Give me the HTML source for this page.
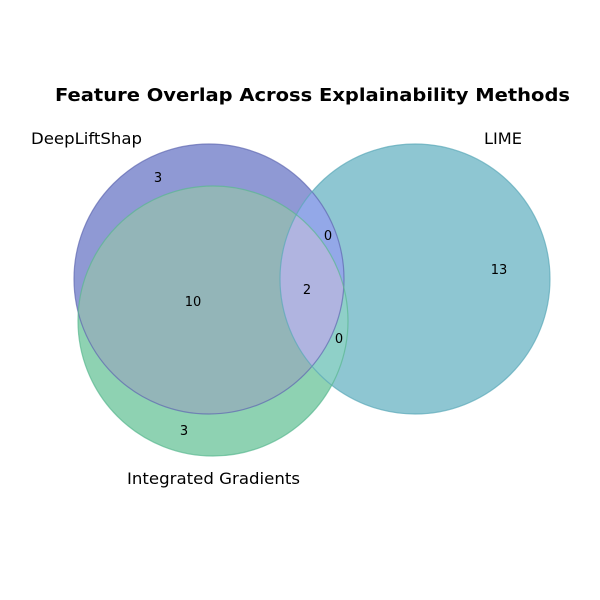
<!DOCTYPE html>
<html><head><style>body{margin:0;background:#fff}svg{display:block}</style></head><body>
<svg width="600" height="600" viewBox="0 0 600 600" xmlns="http://www.w3.org/2000/svg" font-family="'DejaVu Sans', 'Liberation Sans', sans-serif">
<defs>
<clipPath id="cA"><circle cx="209" cy="279" r="135"/></clipPath>
<clipPath id="cB"><circle cx="415" cy="279" r="135"/></clipPath>
<clipPath id="cC"><circle cx="213" cy="321" r="135"/></clipPath>
</defs>
<rect width="600" height="600" fill="#fff"/>
<circle cx="213" cy="321" r="135" fill="#8ed2b2"/>
<circle cx="415" cy="279" r="135" fill="#8ec6d2"/>
<circle cx="209" cy="279" r="135" fill="#8f99d4"/>
<g clip-path="url(#cA)">
  <circle cx="213" cy="321" r="135" fill="#93b5b8"/>
  <circle cx="415" cy="279" r="135" fill="#93a8e8"/>
  <g clip-path="url(#cC)"><circle cx="415" cy="279" r="135" fill="#b0b4e0"/></g>
</g>
<g clip-path="url(#cC)">
  <g clip-path="url(#cB)"><rect x="0" y="0" width="600" height="600" fill="#8fd0c8"/>
  <g clip-path="url(#cA)"><rect x="0" y="0" width="600" height="600" fill="#b0b4e0"/></g></g>
</g>
<circle cx="209" cy="279" r="135" fill="none" stroke="#5f68b0" stroke-opacity="0.7" stroke-width="1.2"/>
<circle cx="415" cy="279" r="135" fill="none" stroke="#5aa8b8" stroke-opacity="0.7" stroke-width="1.2"/>
<circle cx="213" cy="321" r="135" fill="none" stroke="#5ab890" stroke-opacity="0.7" stroke-width="1.2"/>
<text x="55" y="101" font-size="18" font-weight="bold" textLength="515" lengthAdjust="spacingAndGlyphs">Feature Overlap Across Explainability Methods</text>
<g font-size="16">
<text x="31" y="144" textLength="111" lengthAdjust="spacingAndGlyphs">DeepLiftShap</text>
<text x="484" y="144" textLength="38" lengthAdjust="spacingAndGlyphs">LIME</text>
<text x="127" y="484" textLength="173" lengthAdjust="spacingAndGlyphs">Integrated Gradients</text>
</g>
<g font-size="13" text-anchor="middle">
<text x="158" y="182">3</text>
<text x="499" y="274">13</text>
<text x="184" y="435">3</text>
<text x="328" y="240">0</text>
<text x="193" y="306">10</text>
<text x="307" y="294">2</text>
<text x="339" y="343">0</text>
</g>
</svg>
</body></html>
